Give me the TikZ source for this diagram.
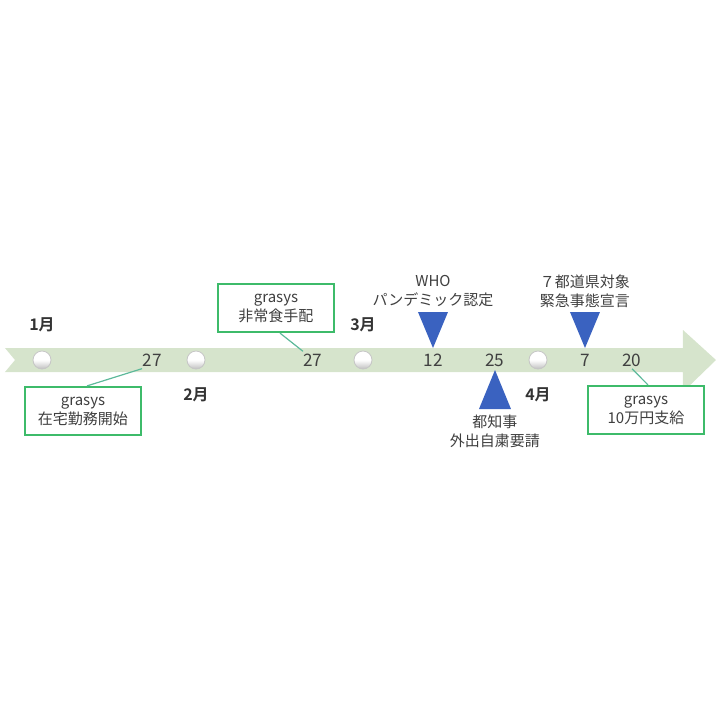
\documentclass[tikz,border=0pt]{standalone}
\usepackage{fontspec}
\setmainfont{Noto Sans CJK JP}[BoldFont={Noto Sans CJK JP Bold}]
\usetikzlibrary{positioning}
\definecolor{bandgreen}{HTML}{D6E4CC}
\definecolor{boxgreen}{HTML}{3DBB6A}
\definecolor{linkgreen}{HTML}{5DB99A}
\definecolor{triblue}{HTML}{3A62C0}
\definecolor{txtgray}{HTML}{3F3F3F}

\begin{document}
\begin{tikzpicture}[x=0.5pt,y=-0.5pt,node distance=20pt,on grid,
    font=\fontsize{7.5}{9.5}\selectfont,text=txtgray]
      \tikzset{dot/.style={circle,draw=gray!45,line width=0.4pt,minimum size=9pt,inner sep=0pt,
                           top color=white,bottom color=gray!50,middle color=white}}
      \tikzset{day/.style={inner sep=1pt,font=\fontsize{8.6}{9.5}\selectfont,text=black!75}}
      \tikzset{month/.style={font=\fontsize{8}{9.5}\selectfont\bfseries,text=black!80}}
      \tikzset{note/.style={draw=boxgreen,line width=1.1pt,fill=white,align=center,
                            minimum width=58pt,minimum height=24pt,inner sep=2pt}}
      \tikzset{event/.style={align=center,inner sep=0pt}}
      \tikzset{link/.style={draw=linkgreen,line width=0.6pt}}
      \tikzset{tri/.style={fill=triblue}}

      \useasboundingbox (0,0) rectangle (720,720);

      % timeline band
      \fill[bandgreen] (5,348) -- (683,348) -- (683,330) -- (716,360) -- (683,392)
                        -- (683,372) -- (5,372) -- (15,360) -- cycle;

      % month dots
      \node[dot] (d1) at (42,360) {};
      \node[dot] (d2) [right = 77pt of d1] {};
      \node[dot] (d3) [right = 83.5pt of d2] {};
      \node[dot] (d4) [right = 87.5pt of d3] {};

      \node[month] (m1) [above = 17.5pt of d1] {1月};
      \node[month] (m2) [below = 17.5pt of d2] {2月};
      \node[month] (m3) [above = 17.5pt of d3] {3月};
      \node[month] (m4) [below = 17.5pt of d4] {4月};

      % days
      \node[day] (jan27) [right = 55pt of d1] {27};
      \node[day] (feb27) [right = 58.5pt of d2] {27};
      \node[day] (mar12) [right = 35pt of d3] {12};
      \node[day] (mar25) [right = 31pt of mar12] {25};
      \node[day] (apr7)  [right = 23.5pt of d4] {7};
      \node[day] (apr20) [right = 23.5pt of apr7] {20};

      % grasys boxes
      \node[note] (b1) [below left = 25.5pt and 34.5pt of jan27] {grasys\\在宅勤務開始};
      \node[note] (b2) [above left = 26pt and 18.5pt of feb27] {grasys\\非常食手配};
      \node[note] (b3) [below right = 25pt and 7pt of apr20] {grasys\\10万円支給};

      \path[link]
      ([xshift=2pt]b1.north) edge ([xshift=1pt]jan27.south west)
      ([xshift=2pt]b2.south) edge ([xshift=1pt]feb27.north west)
      (apr20.south) edge ([xshift=1pt]b3.north);

      % markers
      \coordinate (whotip) at ([yshift=6pt]mar12.center);
      \coordinate (govtip) at ([yshift=-5pt]mar25.center);
      \coordinate (empty) at ([yshift=6pt]apr7.center);
      \fill[tri] (whotip) -- ([shift={(-15,-36)}]whotip) -- ([shift={(15,-36)}]whotip) -- cycle;
      \fill[tri] (govtip) -- ([shift={(-16,39)}]govtip) -- ([shift={(16,39)}]govtip) -- cycle;
      \fill[tri] (empty) -- ([shift={(-15,-36)}]empty) -- ([shift={(15,-36)}]empty) -- cycle;

      \node[event] (who) [above = 34.5pt of mar12] {WHO\\パンデミック認定};
      \node[event] (gov) [below = 35.5pt of mar25] {都知事\\外出自粛要請};
      \node[event] (emg) [above = 34.5pt of apr7] {７都道県対象\\緊急事態宣言};
\end{tikzpicture}
\end{document}
